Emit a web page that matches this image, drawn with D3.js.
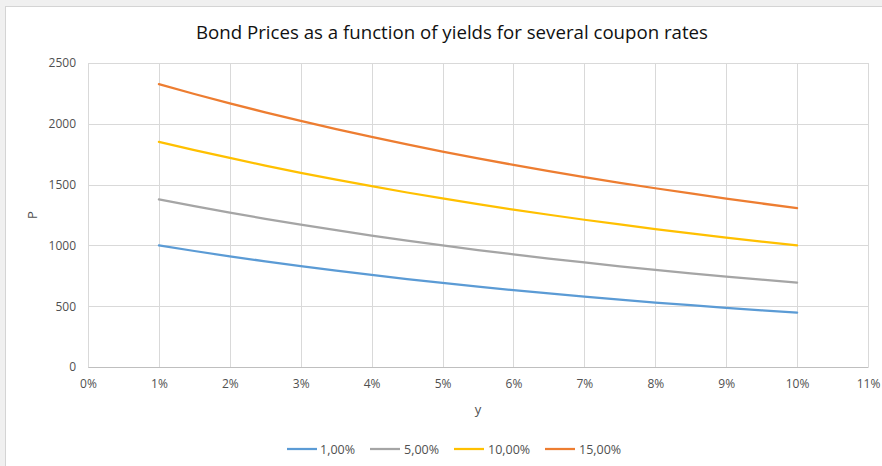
<!DOCTYPE html>
<html>
<head>
<meta charset="utf-8">
<script src="https://cdn.jsdelivr.net/npm/d3@7"></script>
<style>
  html, body { margin: 0; padding: 0; background: #fff; }
  svg { display: block; font-family: "Open Sans", "Liberation Sans", sans-serif; }
</style>
</head>
<body>
<svg id="chart" width="882" height="466"></svg>
<script>
// Yields (x) and bond prices per coupon rate
const yields = [0.01, 0.015, 0.02, 0.025, 0.03, 0.035, 0.04, 0.045, 0.05, 0.055,
                0.06, 0.065, 0.07, 0.075, 0.08, 0.085, 0.09, 0.095, 0.10];
const coupon1  = [1000, 954, 910, 869, 829, 792, 757, 723, 691, 661, 632, 605, 579, 554, 530, 508, 487, 466, 447];
const coupon5  = [1379, 1323, 1270, 1219, 1171, 1125, 1081, 1040, 1000, 962, 926, 892, 860, 828, 799, 770, 743, 718, 693];
const coupon10 = [1852, 1784, 1719, 1656, 1597, 1541, 1487, 1435, 1386, 1339, 1294, 1252, 1211, 1172, 1134, 1098, 1064, 1031, 1000];
const coupon15 = [2326, 2245, 2168, 2094, 2024, 1956, 1892, 1831, 1772, 1716, 1662, 1611, 1562, 1515, 1470, 1427, 1385, 1345, 1307];

const seriesNames = ["1,00%", "5,00%", "10,00%", "15,00%"];
const seriesValues = [coupon1, coupon5, coupon10, coupon15];
const seriesColors = ["#5B9BD5", "#A5A5A5", "#FFC000", "#ED7D31"];

const xTicks = [0, 0.01, 0.02, 0.03, 0.04, 0.05, 0.06, 0.07, 0.08, 0.09, 0.10, 0.11];
const yTicks = [0, 500, 1000, 1500, 2000, 2500];

const title = "Bond Prices as a function of yields for several coupon rates";
const xTitle = "y";
const yTitle = "P";

const W = 882, H = 466;
const svg = d3.select("#chart");

// window frame around the chart object
svg.append("rect").attr("x", 0).attr("y", 0).attr("width", W).attr("height", H).attr("fill", "#f0f0f0");
svg.append("rect").attr("x", 5.5).attr("y", 6.5).attr("width", W).attr("height", H)
  .attr("fill", "#ffffff").attr("stroke", "#d4d4d4").attr("stroke-width", 1);

const plot = { left: 88, right: 868, top: 63, bottom: 367 };

const x = d3.scaleLinear().domain([0, 0.11]).range([plot.left, plot.right]);
const y = d3.scaleLinear().domain([0, 2500]).range([plot.bottom, plot.top]);

// gridlines
const grid = svg.append("g");
grid.selectAll("line.h").data(yTicks).join("line")
  .attr("x1", plot.left).attr("x2", plot.right)
  .attr("y1", d => Math.round(y(d)) + 0.5).attr("y2", d => Math.round(y(d)) + 0.5)
  .attr("stroke", "#d9d9d9").attr("stroke-width", 1);
grid.selectAll("line.v").data(xTicks).join("line")
  .attr("y1", plot.top).attr("y2", plot.bottom)
  .attr("x1", d => Math.round(x(d)) + 0.5).attr("x2", d => Math.round(x(d)) + 0.5)
  .attr("stroke", "#d9d9d9").attr("stroke-width", 1);

// axes (labels only, Excel style)
const tickFont = 12;
const xAxis = d3.axisBottom(x).tickValues(xTicks).tickFormat(d3.format(".0%")).tickSize(0).tickPadding(12);
const gx = svg.append("g").attr("transform", `translate(0,${plot.bottom})`).call(xAxis);
gx.select(".domain").attr("stroke", "#bfbfbf");
gx.selectAll("text").attr("fill", "#505050").attr("font-size", tickFont)
  .attr("font-family", "'Open Sans', sans-serif");

const yAxis = d3.axisLeft(y).tickValues(yTicks).tickFormat(d3.format("d")).tickSize(0).tickPadding(12);
const gy = svg.append("g").attr("transform", `translate(${plot.left},0)`).call(yAxis);
gy.select(".domain").remove();
gy.selectAll("text").attr("fill", "#505050").attr("font-size", tickFont)
  .attr("font-family", "'Open Sans', sans-serif");

// series lines
const line = d3.line().x((d, i) => x(yields[i])).y(d => y(d));
svg.append("g").selectAll("path").data(seriesValues).join("path")
  .attr("d", d => line(d))
  .attr("fill", "none")
  .attr("stroke", (d, i) => seriesColors[i])
  .attr("stroke-width", 2.25)
  .attr("stroke-linejoin", "round")
  .attr("stroke-linecap", "round");

// title
svg.append("text").attr("x", 452).attr("y", 39).attr("text-anchor", "middle")
  .attr("font-size", 18.5).attr("fill", "#111111")
  .attr("textLength", 512).attr("lengthAdjust", "spacingAndGlyphs")
  .text(title);

// axis titles
svg.append("text").attr("x", 478).attr("y", 414).attr("text-anchor", "middle")
  .attr("font-size", 13).attr("fill", "#505050").text(xTitle);
svg.append("text").attr("transform", "translate(37,215) rotate(-90)").attr("text-anchor", "middle")
  .attr("font-size", 13).attr("fill", "#505050").text(yTitle);

// legend
const legendX = [287, 370, 454, 545];
const legend = svg.append("g");
seriesNames.forEach((name, i) => {
  const g = legend.append("g").attr("transform", `translate(${legendX[i]},449)`);
  g.append("line").attr("x1", 0).attr("x2", 30).attr("y1", 0).attr("y2", 0)
    .attr("stroke", seriesColors[i]).attr("stroke-width", 2.25);
  g.append("text").attr("x", i === 0 ? 33 : 34).attr("y", 4.5).attr("font-size", 12.5)
    .attr("fill", "#505050").text(name);
});
</script>
</body>
</html>
